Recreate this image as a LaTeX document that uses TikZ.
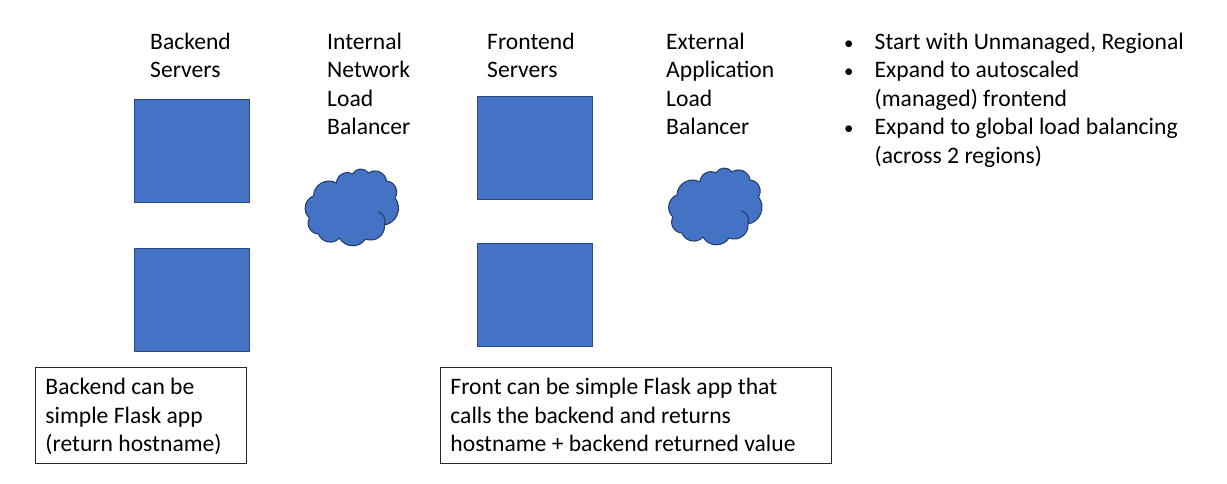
\documentclass[tikz,border=0pt]{standalone}
\usepackage{fontspec}
\setmainfont{Carlito}
\usepackage{xcolor}
\definecolor{srvblue}{HTML}{4472C4}
\definecolor{srvline}{HTML}{203864}
\newcommand{\bulletitem}{\makebox[30.5pt][l]{\scalebox{0.8}{\textbullet}}}
\newcommand{\firstline}{\rule{0pt}{22pt}}
\newcommand{\lastline}{\rule[-6pt]{0pt}{6pt}}
\begin{document}
\begin{tikzpicture}[
  x=1pt, y=-1pt, font=\fontsize{23.6}{28.5}\selectfont,
  server/.style={draw=srvline!70!srvblue, fill=srvblue, line width=1pt, minimum width=115pt, minimum height=103pt, inner sep=0pt},
  title/.style={anchor=north west, align=flush left, inner sep=0pt},
  note/.style={draw=black!85, line width=0.9pt, anchor=north west, align=flush left, inner xsep=10pt, inner ysep=0pt, minimum height=96pt},
  puff/.style={bend left=60, looseness=1.1},
  lbcloud/.pic={
    \draw[draw=srvline, fill=srvblue, line width=1pt]
      (-38,-14) to[puff] (-15,-27) to[puff] (1,-36) to[puff] (17,-37)
      to[puff] (35,-29) to[puff] (43.5,-12) to[puff] (33,15)
      to[puff] (14,29) to[puff] (-12,28) to[puff] (-33,24)
      to[puff] (-42,8) to[puff] cycle;
    \draw[draw=srvline, line width=1pt] (26.7,1.7) to[bend left=45] (33,15);
  }
]
\useasboundingbox (0,0) rectangle (1227,483);
% titles
\node[title] (backendtitle) at (150,32.5) {Backend\\Servers};
\node[title] (ilbtitle) at (327,32.5) {Internal\\Network\\Load\\Balancer};
\node[title] (frontendtitle) at (487,32.5) {Frontend\\Servers};
\node[title] (elbtitle) at (666,32.5) {External\\Application\\Load\\Balancer};
% servers
\node[server] (backone) at (191.5,150.5) {};
\node[server] (backtwo) at (191.5,299.5) {};
\node[server] (frontone) at (535,147.5) {};
\node[server] (fronttwo) at (535,294.5) {};
% load balancers
\pic (ilb) at (351.5,210) {lbcloud};
\pic (elb) at (715,209) {lbcloud};
% notes
\node[note, text width=191pt] (backnote) at (35,367) {\firstline Backend can be\\simple Flask app\\(return hostname)\lastline};
\node[note, text width=371pt] (frontnote) at (440,367) {\firstline Front can be simple Flask app that\\calls the backend and returns\\hostname + backend returned value\lastline};
% bullets
\node[title] (bulletone) at (844,32.5) {\bulletitem Start with Unmanaged, Regional};
\node[title] (bullettwo) at (844,61) {\bulletitem Expand to autoscaled\\\hspace*{30.5pt}(managed) frontend};
\node[title] (bulletthree) at (844,118) {\bulletitem Expand to global load balancing\\\hspace*{30.5pt}(across 2 regions)};
\end{tikzpicture}
\end{document}
